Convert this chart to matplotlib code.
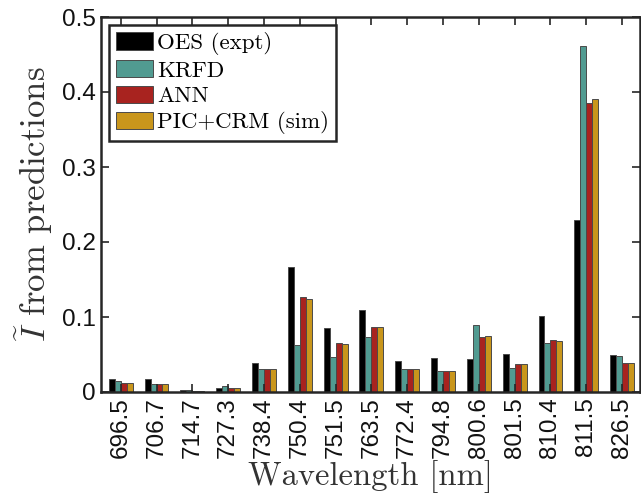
import numpy as np
import matplotlib
matplotlib.use('Agg')
import matplotlib.pyplot as plt

# Wavelength lines and normalised intensities
wavelengths = ['696.5', '706.7', '714.7', '727.3', '738.4', '750.4', '751.5', '763.5',
               '772.4', '794.8', '800.6', '801.5', '810.4', '811.5', '826.5']
oes = [0.0177, 0.0177, 0.0030, 0.0058, 0.0390, 0.1667, 0.0850, 0.1090,
       0.0418, 0.0449, 0.0440, 0.0502, 0.1018, 0.2290, 0.0498]
krfd = [0.0147, 0.0102, 0.0027, 0.0080, 0.0310, 0.0630, 0.0470, 0.0738,
        0.0310, 0.0280, 0.0893, 0.0315, 0.0653, 0.4610, 0.0480]
ann = [0.0124, 0.0102, 0.0020, 0.0058, 0.0310, 0.1270, 0.0650, 0.0862,
       0.0310, 0.0284, 0.0733, 0.0378, 0.0689, 0.3858, 0.0390]
pic_crm = [0.0124, 0.0102, 0.0020, 0.0058, 0.0310, 0.1240, 0.0636, 0.0862,
           0.0310, 0.0284, 0.0742, 0.0369, 0.0680, 0.3910, 0.0390]

series = [oes, krfd, ann, pic_crm]
labels = ['OES (expt)', 'KRFD', 'ANN', 'PIC+CRM (sim)']
colors = ['#000000', '#519b91', '#a8231f', '#c9961c']

plt.rcParams['mathtext.fontset'] = 'cm'
axis_col = '#262626'

fig = plt.figure(figsize=(6.41, 5.0), dpi=100)
ax = fig.add_axes([101 / 641, 108 / 500, 539 / 641, 375 / 500])

x = np.arange(1, len(wavelengths) + 1)
w = 0.167
for i, (vals, lab, col) in enumerate(zip(series, labels, colors)):
    ax.bar(x + (i - 1.5) * w, vals, width=w, color=col, edgecolor='#4a4a4a',
           linewidth=0.7, label=lab)

ax.set_xlim(0.45, 15.5)
ax.set_ylim(0, 0.5)
ax.set_xticks(x)
ax.set_xticklabels(wavelengths, rotation=90, family='Liberation Sans', fontsize=17.5)
ax.set_yticks([0, 0.1, 0.2, 0.3, 0.4, 0.5])
ax.set_yticklabels(['0', '0.1', '0.2', '0.3', '0.4', '0.5'], family='Liberation Sans', fontsize=17.5)
ax.tick_params(direction='in', length=6, width=1.2, color=axis_col,
               top=True, right=True, labelcolor='#111111', pad=4)
for s in ax.spines.values():
    s.set_linewidth(1.8)
    s.set_color(axis_col)

ax.set_xlabel('Wavelength [nm]', family='cmr10', fontsize=23.5, color='#333333', labelpad=1)
ax.set_ylabel(r'$\widetilde{I}$ from predictions', family='cmr10', fontsize=25,
              color='#333333', labelpad=5)

leg = ax.legend(loc='upper left', bbox_to_anchor=(0.015, 0.979), borderaxespad=0,
                prop={'family': 'cmr10', 'size': 16.5}, fancybox=False,
                handlelength=1.6, handleheight=0.8, handletextpad=0.2,
                labelspacing=0.22, borderpad=0.3, framealpha=1)
leg.get_frame().set_edgecolor(axis_col)
leg.get_frame().set_linewidth(1.8)

fig.savefig('out.png', dpi=100)
